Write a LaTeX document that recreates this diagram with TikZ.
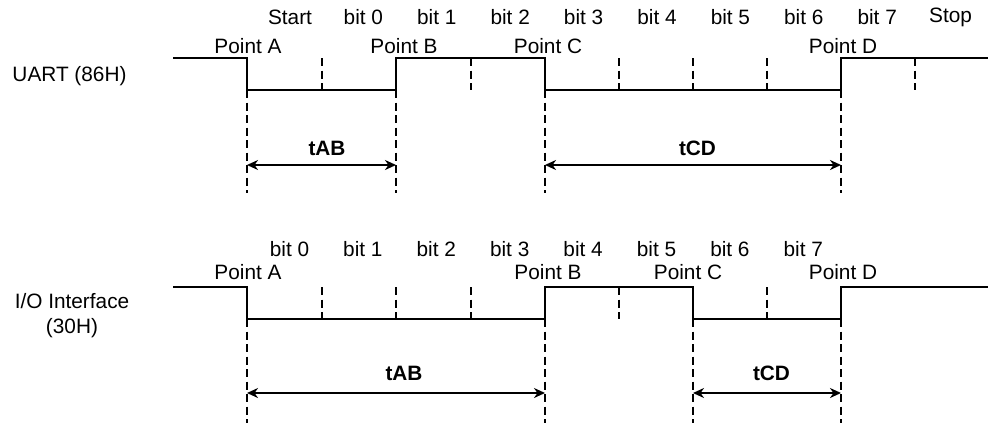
\documentclass[tikz,border=0pt]{standalone}
\usepackage{fontspec}
\setmainfont{Liberation Sans}
\usetikzlibrary{arrows.meta}
\definecolor{bg}{HTML}{FFFFFF}
\definecolor{ink}{HTML}{000000}

\begin{document}
\begin{tikzpicture}[x=1pt,y=-1pt,font=\fontsize{20.8}{25}\selectfont,
  wave/.style={line width=2pt,ink},
  tick/.style={line width=2pt,ink,dash pattern=on 8pt off 4.5pt},
  guide/.style={line width=2pt,ink,dash pattern=on 8pt off 4.5pt},
  dim/.style={{Stealth[length=11pt,width=10pt,inset=3.5pt]}-{Stealth[length=11pt,width=10pt,inset=3.5pt]},line width=2pt,ink},
  txt/.style={inner sep=0pt,text=ink},
  tlbl/.style={txt,font=\fontsize{20.8}{25}\selectfont\bfseries}]
  \fill[bg] (0,0) rectangle (988,423);
  \useasboundingbox (0,0) rectangle (988,423);

  % ===== UART row (high y = 58, low y = 90) =====
  \node[txt] (uart) at (69.5,76) {UART (86H)};
  \foreach \t [count=\i from 0] in {Start,bit 0,bit 1,bit 2,bit 3,bit 4,bit 5,bit 6,bit 7,Stop}
    \node[txt] (ub\i) at (290+73.4*\i,17.5) {\t};
  \node[txt] (upA) at (248,46) {Point A};
  \node[txt] (upB) at (404,46) {Point B};
  \node[txt] (upC) at (548,46) {Point C};
  \node[txt] (upD) at (843,46) {Point D};

  \coordinate (uA) at (247,90);
  \coordinate (uB) at (396,90);
  \coordinate (uC) at (545,90);
  \coordinate (uD) at (841,90);
  \draw[wave] (173,58) -| (uA) -- (uB) -- ++(0,-32) -| (uC) -- (uD) -- ++(0,-32) -- (988,58);
  \foreach \x in {322,471,619,693,767,915}
    \draw[tick] (\x,58) -- ++(0,32);
  % guides and time spans
  \foreach \p in {uA,uB,uC,uD}
    \draw[guide] (\p) -- ++(0,103);
  \draw[dim] ([yshift=-75pt]uA) -- ([yshift=-75pt]uB);
  \draw[dim] ([yshift=-75pt]uC) -- ([yshift=-75pt]uD);
  \node[tlbl] (tab1) at (327,148) {tAB};
  \node[tlbl] (tcd1) at (697.5,148) {tCD};

  % ===== I/O interface row (high y = 287, low y = 319) =====
  \node[txt,align=center] (io) at (72,315.5) {I/O Interface\\(30H)};
  \foreach \t [count=\i from 0] in {bit 0,bit 1,bit 2,bit 3,bit 4,bit 5,bit 6,bit 7}
    \node[txt] (ib\i) at (289.5+73.4*\i,249.5) {\t};
  \node[txt] (ipA) at (248,272.5) {Point A};
  \node[txt] (ipB) at (548,272.5) {Point B};
  \node[txt] (ipC) at (688,272.5) {Point C};
  \node[txt] (ipD) at (843,272.5) {Point D};

  \coordinate (iA) at (247,319);
  \coordinate (iB) at (545,319);
  \coordinate (iC) at (693,319);
  \coordinate (iD) at (841,319);
  \draw[wave] (173,287) -| (iA) -- (iB) -- ++(0,-32) -| (iC) -- (iD) -- ++(0,-32) -- (988,287);
  \foreach \x in {322,396,471,619,767}
    \draw[tick] (\x,287) -- ++(0,32);
  \foreach \p in {iA,iB,iC,iD}
    \draw[guide] (\p) -- ++(0,104);
  \draw[dim] ([yshift=-74pt]iA) -- ([yshift=-74pt]iB);
  \draw[dim] ([yshift=-74pt]iC) -- ([yshift=-74pt]iD);
  \node[tlbl] (tab2) at (404,373) {tAB};
  \node[tlbl] (tcd2) at (771.5,373) {tCD};
\end{tikzpicture}
\end{document}
